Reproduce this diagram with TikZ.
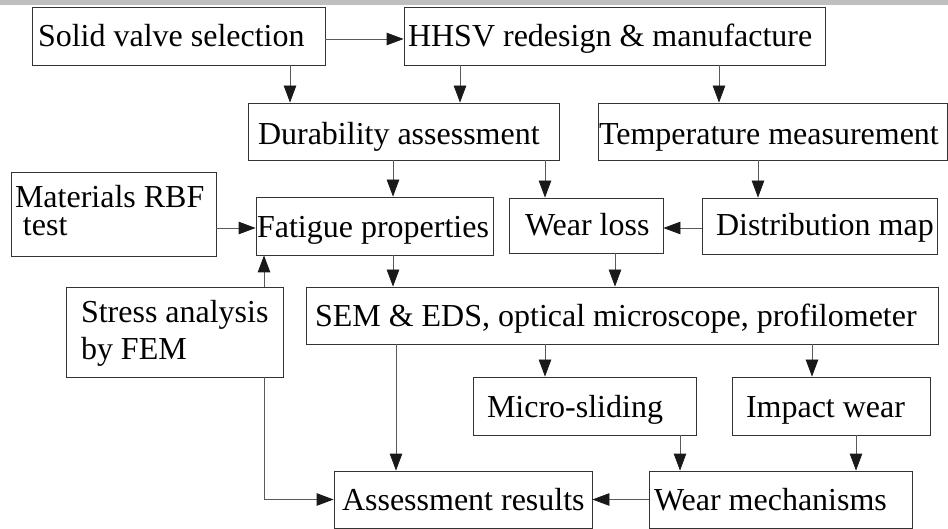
\documentclass[tikz,border=0pt]{standalone}
\usepackage{fontspec}
\setmainfont{Liberation Serif}
\usetikzlibrary{arrows.meta}
\newcommand\lbx[3]{\makebox[#1][l]{\hspace*{#2}#3}}
\newcommand\twol[3]{\vtop{\baselineskip=#3\lineskiplimit=-\maxdimen\hbox{#1}\hbox{#2}}}
\begin{document}
\begin{tikzpicture}[x=1pt,y=-1pt,
  box/.style={draw=black!80, line width=0.8pt, inner sep=0pt,
    font=\fontsize{32}{26}\selectfont, text height=22pt, text depth=0pt},
  arr/.style={draw=black!65, line width=0.8pt,
    -{Triangle[length=17pt,width=12.5pt,color=black!90]}}]
\useasboundingbox (0,0) rectangle (948,529);
\fill[black!25] (0,0) rectangle (948,5);

\node[box, minimum width=293pt, minimum height=58pt] (solid) at (178.5,36)
  {\lbx{293pt}{6pt}{Solid valve selection}};
\node[box, minimum width=421pt, minimum height=58pt] (hhsv) at (614.5,36)
  {\lbx{421pt}{4pt}{HHSV redesign \& manufacture}};
\node[box, minimum width=311pt, minimum height=57pt, text height=26pt] (dur) at (403.5,131.5)
  {\lbx{311pt}{10pt}{Durability assessment}};
\node[box, minimum width=349pt, minimum height=57pt, text height=26pt] (temp) at (772.5,131.5)
  {\lbx{349pt}{1pt}{Temperature measurement}};
\node[box, minimum width=205pt, minimum height=84pt, text height=0pt, text depth=12pt] (mat) at (113.5,214)
  {\lbx{205pt}{4pt}{\twol{Materials RBF}{\hspace*{8pt}test}{28pt}}};
\node[box, minimum width=237pt, minimum height=58pt, text height=24pt] (fat) at (374.5,226)
  {\lbx{237pt}{1pt}{Fatigue properties}};
\node[box, minimum width=154pt, minimum height=55pt, text height=20pt] (wear) at (586,225.5)
  {\lbx{154pt}{16pt}{Wear loss}};
\node[box, minimum width=235pt, minimum height=56pt, text height=20pt] (dist) at (819.5,226)
  {\lbx{235pt}{14pt}{Distribution map}};
\node[box, minimum width=217pt, minimum height=90pt, text height=0pt, text depth=18pt] (stress) at (174.5,332)
  {\lbx{217pt}{15pt}{\twol{Stress analysis}{by FEM}{37pt}}};
\node[box, minimum width=632pt, minimum height=57pt] (sem) at (622,315.5)
  {\lbx{632pt}{9pt}{SEM \& EDS, optical microscope, profilometer}};
\node[box, minimum width=223pt, minimum height=58pt] (micro) at (584.5,406)
  {\lbx{223pt}{14pt}{Micro-sliding}};
\node[box, minimum width=198pt, minimum height=58pt] (impact) at (831,406)
  {\lbx{198pt}{14pt}{Impact wear}};
\node[box, minimum width=263pt, minimum height=57pt] (mech) at (780.5,499.5)
  {\lbx{263pt}{5pt}{Wear mechanisms}};
\node[box, minimum width=258pt, minimum height=57pt] (assess) at (463,499.5)
  {\lbx{258pt}{8pt}{Assessment results}};

\coordinate (x290) at (290,0);
\coordinate (x460) at (460,0);
\coordinate (x719) at (719,0);
\coordinate (x393) at (393,0);
\coordinate (x545) at (545,0);
\coordinate (x758) at (758,0);
\coordinate (x264) at (264,0);
\coordinate (x615) at (615,0);
\coordinate (x812) at (812,0);
\coordinate (x396) at (396,0);
\coordinate (x680) at (680,0);
\coordinate (x856) at (856,0);
\coordinate (y228) at (0,228);

\draw[arr] ([yshift=-3pt]solid.east) -- ([yshift=-3pt]hhsv.west);
\draw[arr] (solid.south -| x290) -- (dur.north -| x290);
\draw[arr] (hhsv.south -| x460) -- (dur.north -| x460);
\draw[arr] (hhsv.south -| x719) -- (temp.north -| x719);
\draw[arr] (dur.south -| x393) -- (fat.north -| x393);
\draw[arr] (dur.south -| x545) -- (wear.north -| x545);
\draw[arr] (temp.south -| x758) -- (dist.north -| x758);
\draw[arr] (mat.east |- y228) -- (fat.west |- y228);
\draw[arr] (dist.west |- y228) -- (wear.east |- y228);
\draw[arr] (stress.north -| x264) -- (fat.south -| x264);
\draw[arr] (fat.south -| x393) -- (sem.north -| x393);
\draw[arr] (wear.south -| x615) -- (sem.north -| x615);
\draw[arr] (sem.south -| x545) -- (micro.north -| x545);
\draw[arr] (sem.south -| x812) -- (impact.north -| x812);
\draw[arr] (sem.south -| x396) -- (assess.north -| x396);
\draw[arr] (micro.south -| x680) -- (mech.north -| x680);
\draw[arr] (impact.south -| x856) -- (mech.north -| x856);
\draw[arr] (mech.west) -- (assess.east);
\draw[arr] (stress.south -| x264) |- (assess.west);
\end{tikzpicture}
\end{document}
